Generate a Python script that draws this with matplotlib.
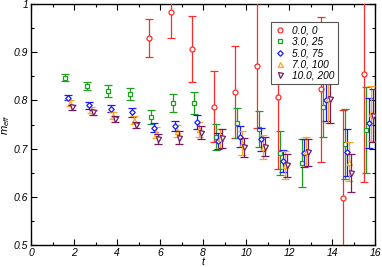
import numpy as np
import matplotlib
matplotlib.use("Agg")
import matplotlib.pyplot as plt
from matplotlib.lines import Line2D

plt.rcParams['font.family'] = ['Liberation Sans', 'DejaVu Sans']
plt.rcParams['mathtext.fontset'] = 'custom'
plt.rcParams['mathtext.it'] = 'Liberation Sans:italic'
plt.rcParams['mathtext.rm'] = 'Liberation Sans:italic'

labels = ["0.0, 0", "3.0, 25", "5.0, 75", "7.0, 100", "10.0, 200"]

t_red = [5.5, 6.5, 7.5, 8.5, 9.5, 10.5, 11.5, 13.5, 14.5, 15.5]
m_red = [0.930, 0.983, 0.907, 0.787, 0.818, 0.872, 0.808, 0.823, 0.598, 0.855]
e_red = [0.039, 0.053, 0.069, 0.074, 0.095, 0.130, 0.151, 0.150, 0.182, 0.224]

t_green = [1.6, 2.6, 3.6, 4.6, 5.6, 6.6, 7.6, 8.6, 9.6, 10.6, 11.6, 12.6, 13.6, 14.6, 15.6]
m_green = [0.847, 0.830, 0.820, 0.813, 0.766, 0.794, 0.795, 0.724, 0.754, 0.740, 0.691, 0.670, 0.787, 0.709, 0.738]
e_green = [0.0075, 0.009, 0.012, 0.012, 0.0145, 0.019, 0.023, 0.027, 0.031, 0.037, 0.045, 0.050, 0.062, 0.073, 0.089]

t_blue = [1.7, 2.7, 3.7, 4.7, 5.7, 6.7, 7.7, 8.7, 9.7, 10.7, 11.7, 12.7, 13.7, 14.7, 15.7]
m_blue = [0.806, 0.790, 0.783, 0.775, 0.743, 0.747, 0.755, 0.716, 0.725, 0.719, 0.674, 0.690, 0.800, 0.692, 0.754]
e_blue = [0.006, 0.007, 0.008, 0.009, 0.0095, 0.011, 0.015, 0.017, 0.022, 0.023, 0.023, 0.029, 0.042, 0.048, 0.052]

t_orange = [1.8, 2.8, 3.8, 4.8, 5.8, 6.8, 7.8, 8.8, 9.8, 10.8, 11.8, 12.8, 13.8, 14.8, 15.8]
m_orange = [0.794, 0.780, 0.768, 0.759, 0.733, 0.737, 0.740, 0.721, 0.712, 0.703, 0.666, 0.694, 0.804, 0.673, 0.773]
e_orange = [0.006, 0.006, 0.007, 0.008, 0.011, 0.013, 0.015, 0.020, 0.025, 0.025, 0.030, 0.030, 0.050, 0.040, 0.057]

t_purple = [1.9, 2.9, 3.9, 4.9, 5.9, 6.9, 7.9, 8.9, 9.9, 10.9, 11.9, 12.9, 13.9, 14.9, 15.9]
m_purple = [0.786, 0.775, 0.762, 0.749, 0.720, 0.723, 0.733, 0.721, 0.703, 0.704, 0.665, 0.692, 0.803, 0.649, 0.768]
e_purple = [0.005, 0.006, 0.006, 0.007, 0.011, 0.013, 0.014, 0.020, 0.020, 0.020, 0.024, 0.028, 0.050, 0.040, 0.055]

xticks = [0, 2, 4, 6, 8, 10, 12, 14, 16]
yticks = [0.5, 0.6, 0.7, 0.8, 0.9, 1.0]
ytick_labels = ["0.5", "0.6", "0.7", "0.8", "0.9", "1"]

colors = ['#ff2a2a', '#1f9e1f', '#1a1aff', '#ffa31a', '#7a1a5e']
markers = ['o', 's', 'D', '^', 'v']
msizes = [3.6, 3.4, 2.8, 3.6, 3.6]

fig = plt.figure(figsize=(3.82, 2.67), dpi=100)
ax = fig.add_axes([31/382, 1-245/267, 344/382, 241/267])

series = [(t_red, m_red, e_red), (t_green, m_green, e_green), (t_blue, m_blue, e_blue),
          (t_orange, m_orange, e_orange), (t_purple, m_purple, e_purple)]
for i, (tt, mm, ee) in enumerate(series):
    ax.errorbar(tt, mm, yerr=ee, fmt=markers[i], color=colors[i], mfc='white', mec=colors[i],
                ms=msizes[i], mew=0.9, elinewidth=0.9, capsize=2.6, capthick=0.9, zorder=3+i*0.1)

ax.set_xlim(0, 16)
ax.set_ylim(0.5, 1.0)
ax.set_xticks(xticks)
ax.set_xticklabels([str(x) for x in xticks], fontstyle='italic', fontsize=7.5)
ax.set_xticks(np.arange(1, 16, 2), minor=True)
ax.set_yticks(yticks)
ax.set_yticklabels(ytick_labels, fontstyle='italic', fontsize=7.5)
ax.set_yticks(np.arange(0.55, 1.0, 0.1), minor=True)
ax.tick_params(which='both', direction='in', top=True, right=True, width=0.8, pad=2)
ax.tick_params(which='major', length=4)
ax.tick_params(which='minor', length=2.5)
for s in ax.spines.values():
    s.set_linewidth(1.0)

ax.set_xlabel('t', fontsize=7.5, fontstyle='italic')
ax.xaxis.set_label_coords(0.5, -0.048)
ax.set_ylabel('$m_{eff}$', fontsize=8, labelpad=1)

handles = [Line2D([], [], linestyle='none', marker=markers[i], color=colors[i], mfc='white',
                  mec=colors[i], ms=msizes[i], mew=0.9) for i in range(5)]
leg = ax.legend(handles, labels, loc='upper right', bbox_to_anchor=(0.892, 0.925),
                prop={'style': 'italic', 'size': 7.3}, fancybox=False,
                edgecolor='#555555', framealpha=1, borderpad=0.35, labelspacing=0.12,
                handlelength=1.0, handletextpad=0.7, borderaxespad=0)
leg.get_frame().set_linewidth(0.8)
leg.set_zorder(10)

fig.savefig('out.png', dpi=100)
